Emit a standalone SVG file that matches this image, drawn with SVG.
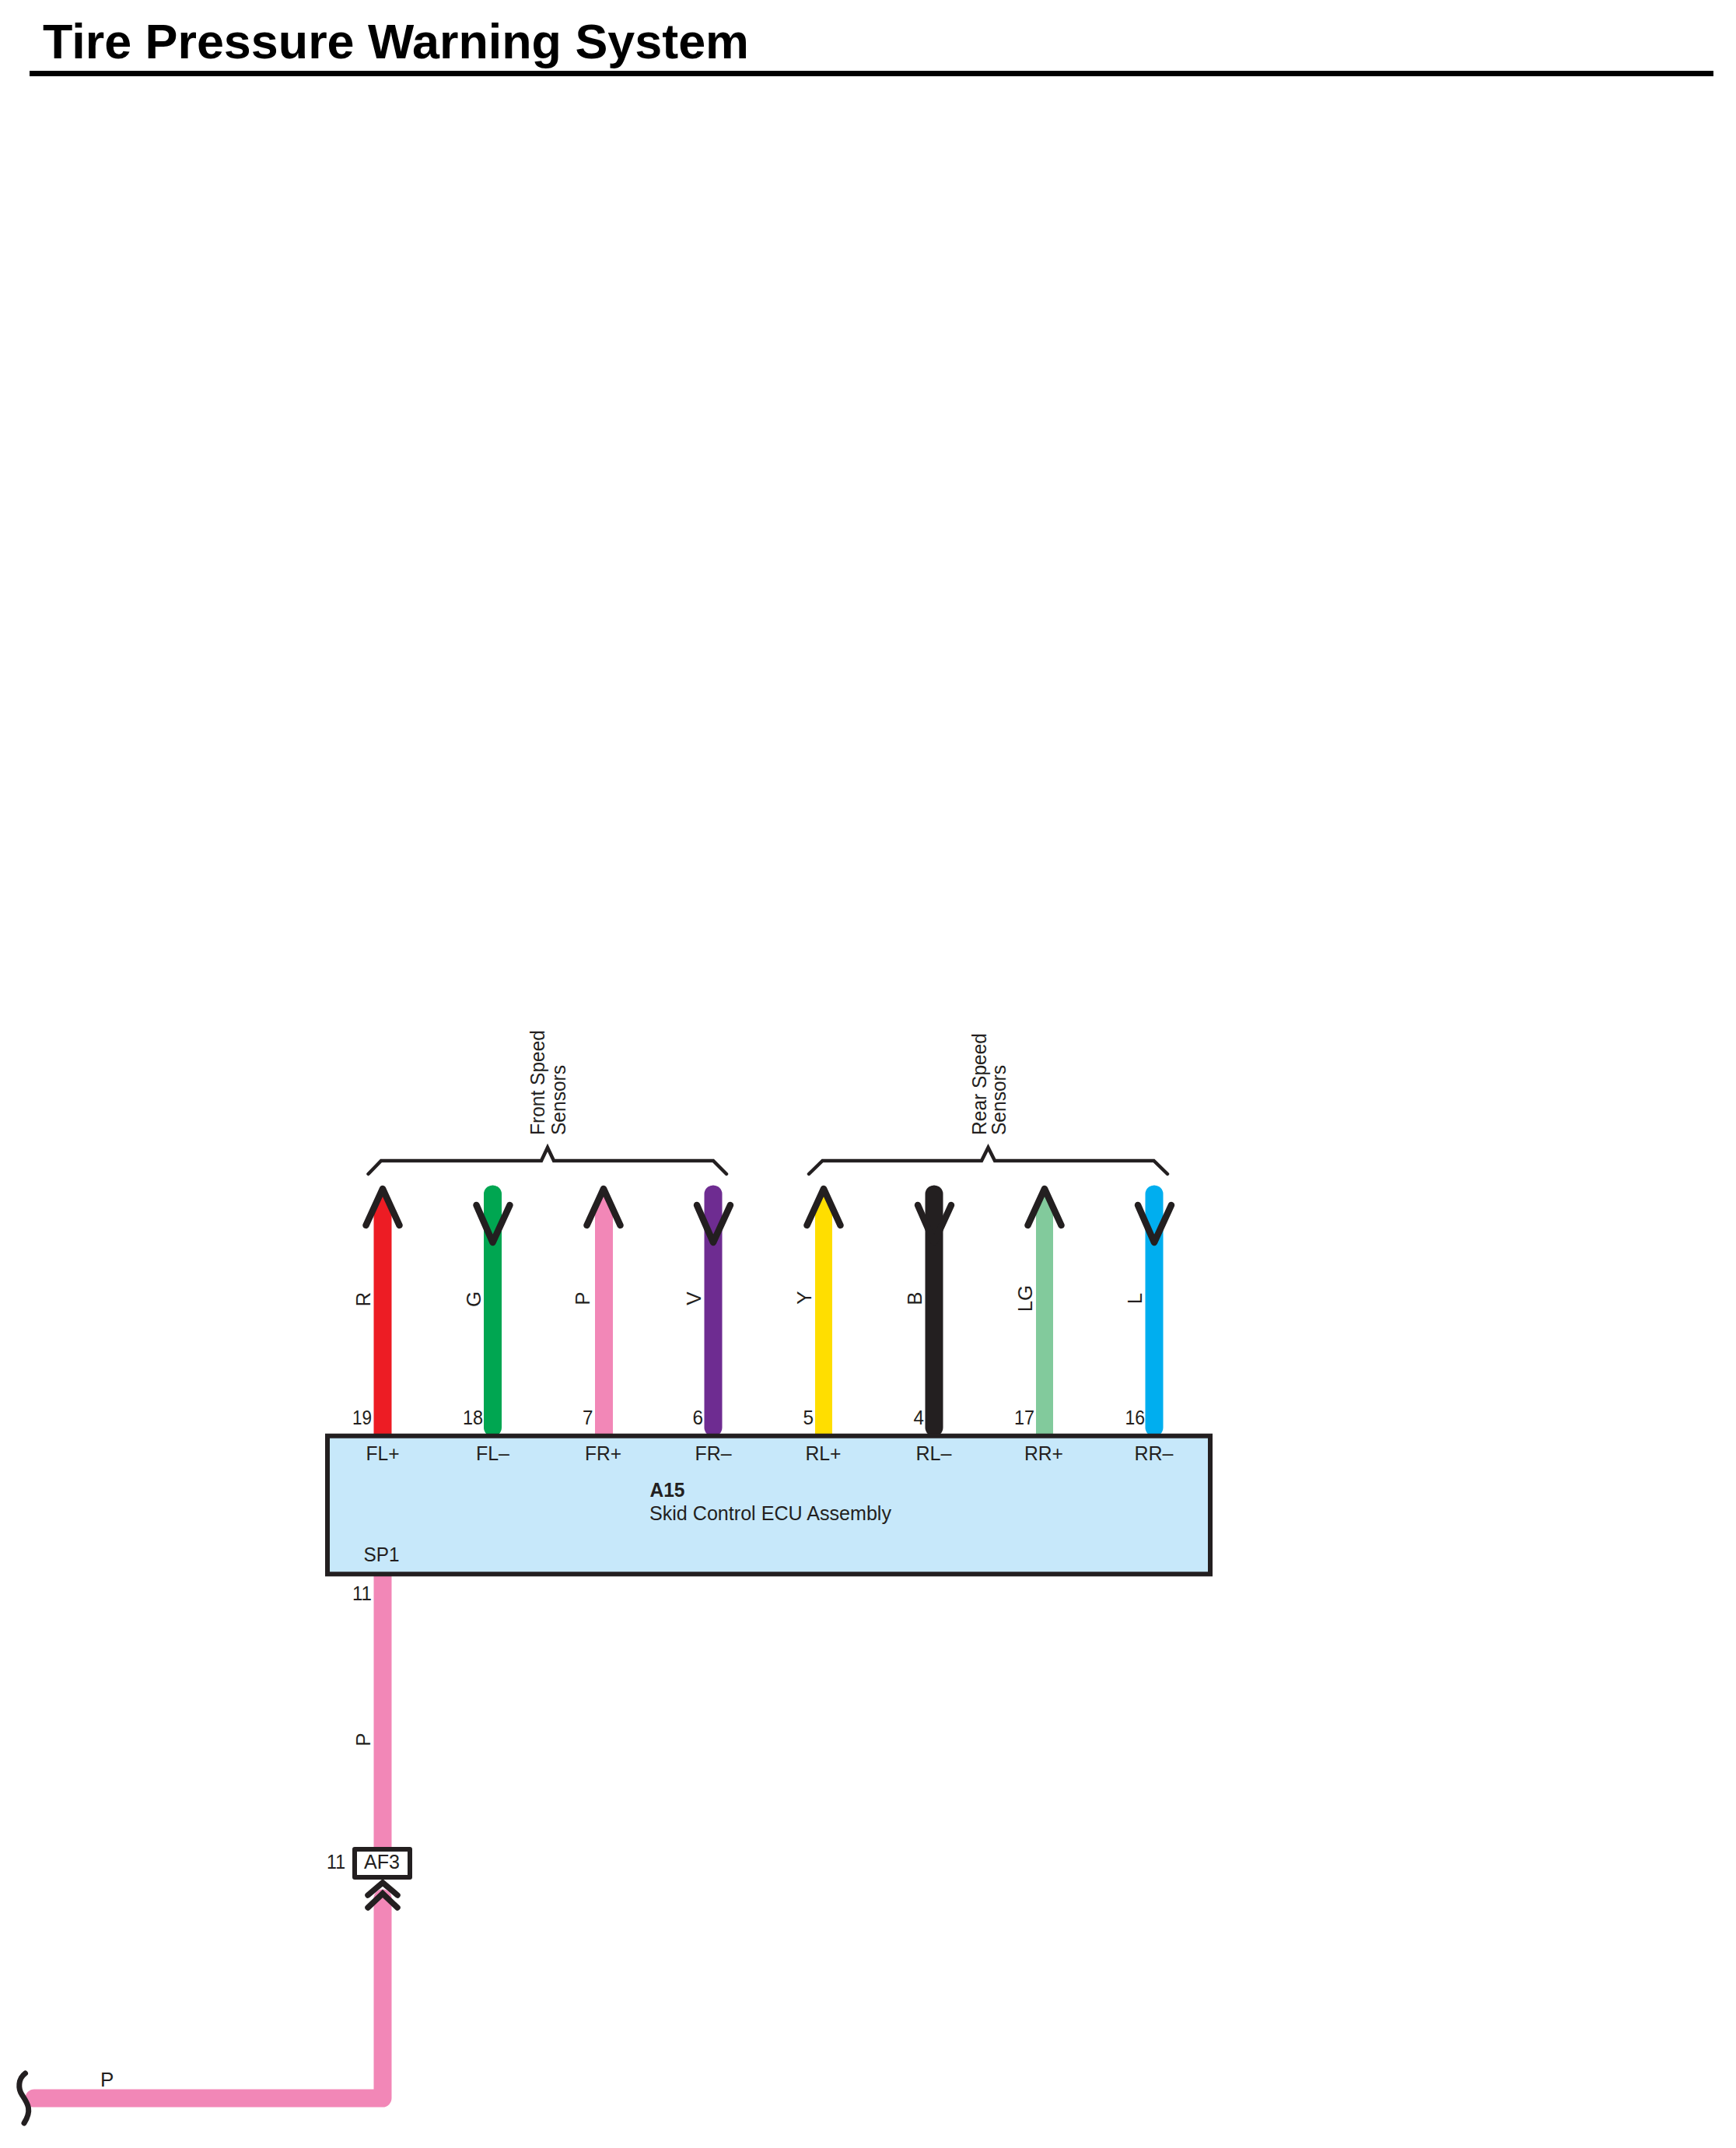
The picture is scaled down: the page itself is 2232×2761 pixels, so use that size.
<svg xmlns="http://www.w3.org/2000/svg" width="2232" height="2761" viewBox="0 0 2232 2761">
<style>
text{font-family:"Liberation Sans",Arial,sans-serif;font-size:26px;fill:#231F20}
.title{font-size:63px;font-weight:700;fill:#000}
.b{font-weight:700}
.m{text-anchor:middle}
.w{fill:none;stroke-width:23;stroke-linecap:round;stroke-linejoin:round}
.a{fill:none;stroke:#231F20;stroke-width:8.500;stroke-linecap:round;stroke-linejoin:round}
.br{fill:none;stroke:#231F20;stroke-width:4.500;stroke-linecap:round;stroke-linejoin:miter}
.box{fill:#C7E8FA;stroke:#231F20;stroke-width:6}
</style>
<rect width="2232" height="2761" fill="#fff"/>
<g id="title">
<text class="title" x="55" y="75" textLength="908" lengthAdjust="spacingAndGlyphs">Tire Pressure Warning System</text>
<rect x="38" y="91" width="2165" height="7" fill="#000"/>
</g>
<g id="connectors">
<path d="M480.500,1843V1553L492,1528L503.500,1553V1843Z" fill="#ED1C24"/>
<path class="w" stroke="#00A651" d="M633.500,1535V1835"/>
<path d="M765,1843V1553L776,1528L788,1553V1843Z" fill="#F287B7"/>
<path class="w" stroke="#6E2C91" d="M917,1535V1835"/>
<path d="M1048,1843V1553L1059,1528L1070,1553V1843Z" fill="#FFDE00"/>
<path class="w" stroke="#231F20" d="M1201,1535V1835"/>
<path d="M1332,1843V1553L1343,1528L1354,1553V1843Z" fill="#82CA9C"/>
<path class="w" stroke="#00AEEF" d="M1484,1535V1835"/>
<path class="w" stroke="#F287B7" style="stroke-linecap:butt" d="M492,2020V2378"/>
<path class="w" stroke="#F287B7" d="M44,2697H492V2440"/>
<path class="a" d="M470.500,1575L492,1528L513.500,1575"/>
<path class="a" d="M612.500,1549L633.500,1597L655.500,1549"/>
<path class="a" d="M754.500,1575L776,1528L797.500,1575"/>
<path class="a" d="M896,1549L917,1597L939,1549"/>
<path class="a" d="M1037.500,1575L1059,1528L1080.500,1575"/>
<path class="a" d="M1180,1549L1201,1597L1223,1549"/>
<path class="a" d="M1321.500,1575L1343,1528L1364.500,1575"/>
<path class="a" d="M1463,1549L1484,1597L1506,1549"/>
<path class="br" d="M473.500,1509L490,1492H696L704,1475L712,1492H917L934,1509"/>
<path class="br" d="M1040,1509L1057.500,1492H1262L1270.500,1475L1279,1492H1483.500L1501,1509"/>
<path d="M32.500,2665C23,2672 23,2685 28.500,2693C35,2703 42,2712 31,2729" fill="none" stroke="#231F20" stroke-width="7" stroke-linecap="round"/>
</g>
<g id="labels-front">
<text transform="translate(699.500,1459) rotate(-90)" textLength="135" lengthAdjust="spacingAndGlyphs">Front Speed</text>
<text transform="translate(726.500,1459) rotate(-90)" textLength="90" lengthAdjust="spacingAndGlyphs">Sensors</text>
</g>
<g id="labels-rear">
<text transform="translate(1267.500,1459) rotate(-90)" textLength="131" lengthAdjust="spacingAndGlyphs">Rear Speed</text>
<text transform="translate(1293,1459) rotate(-90)" textLength="90" lengthAdjust="spacingAndGlyphs">Sensors</text>
</g>
<g id="wire-labels">
<text class="m" transform="translate(476,1670) rotate(-90)">R</text>
<text class="m" transform="translate(617.500,1670) rotate(-90)">G</text>
<text class="m" transform="translate(758,1669) rotate(-90)">P</text>
<text class="m" transform="translate(901,1669) rotate(-90)">V</text>
<text class="m" transform="translate(1042.500,1668) rotate(-90)">Y</text>
<text class="m" transform="translate(1185,1669) rotate(-90)">B</text>
<text class="m" transform="translate(1326.500,1669) rotate(-90)">LG</text>
<text class="m" transform="translate(1467.500,1669) rotate(-90)">L</text>
<text x="129" y="2681.700">P</text>
<text class="m" transform="translate(476,2236) rotate(-90)">P</text>
</g>
<g id="ecu-a15">
<rect class="box" x="421" y="1845.700" width="1135" height="177.600"/>
<text x="453" y="1830.700" textLength="25" lengthAdjust="spacingAndGlyphs">19</text>
<text x="595" y="1830.700" textLength="26" lengthAdjust="spacingAndGlyphs">18</text>
<text x="749" y="1830.700" textLength="13.500" lengthAdjust="spacingAndGlyphs">7</text>
<text x="890.500" y="1830.700" textLength="13.500" lengthAdjust="spacingAndGlyphs">6</text>
<text x="1032.500" y="1830.700" textLength="13.500" lengthAdjust="spacingAndGlyphs">5</text>
<text x="1174.500" y="1830.700" textLength="13.500" lengthAdjust="spacingAndGlyphs">4</text>
<text x="1304" y="1830.700" textLength="26" lengthAdjust="spacingAndGlyphs">17</text>
<text x="1446.500" y="1830.700" textLength="25.500" lengthAdjust="spacingAndGlyphs">16</text>
<text x="470.500" y="1877" textLength="43" lengthAdjust="spacingAndGlyphs">FL+</text>
<text x="612" y="1877" textLength="43" lengthAdjust="spacingAndGlyphs">FL–</text>
<text x="752" y="1877" textLength="47" lengthAdjust="spacingAndGlyphs">FR+</text>
<text x="893.500" y="1877" textLength="47" lengthAdjust="spacingAndGlyphs">FR–</text>
<text x="1035.500" y="1877" textLength="46" lengthAdjust="spacingAndGlyphs">RL+</text>
<text x="1177.500" y="1877" textLength="46" lengthAdjust="spacingAndGlyphs">RL–</text>
<text x="1317" y="1877" textLength="50" lengthAdjust="spacingAndGlyphs">RR+</text>
<text x="1458.500" y="1877" textLength="50" lengthAdjust="spacingAndGlyphs">RR–</text>
<text class="b" x="835.500" y="1924" textLength="45" lengthAdjust="spacingAndGlyphs">A15</text>
<text x="835" y="1954" textLength="311" lengthAdjust="spacingAndGlyphs">Skid Control ECU Assembly</text>
<text x="467.500" y="2007" textLength="46" lengthAdjust="spacingAndGlyphs">SP1</text>
<text x="453" y="2056.700" textLength="25" lengthAdjust="spacingAndGlyphs">11</text>
</g>
<g id="connector-af3">
<rect x="456" y="2377" width="71" height="36" fill="#fff" stroke="#231F20" stroke-width="6" stroke-linejoin="round"/>
<text x="468" y="2402" textLength="46" lengthAdjust="spacingAndGlyphs">AF3</text>
<text x="420" y="2402" textLength="24" lengthAdjust="spacingAndGlyphs">11</text>
<path d="M473,2436L492,2420L511,2436M473,2452L492,2434L511,2452" fill="none" stroke="#231F20" stroke-width="7.500" stroke-linecap="round"/>
</g>
</svg>
